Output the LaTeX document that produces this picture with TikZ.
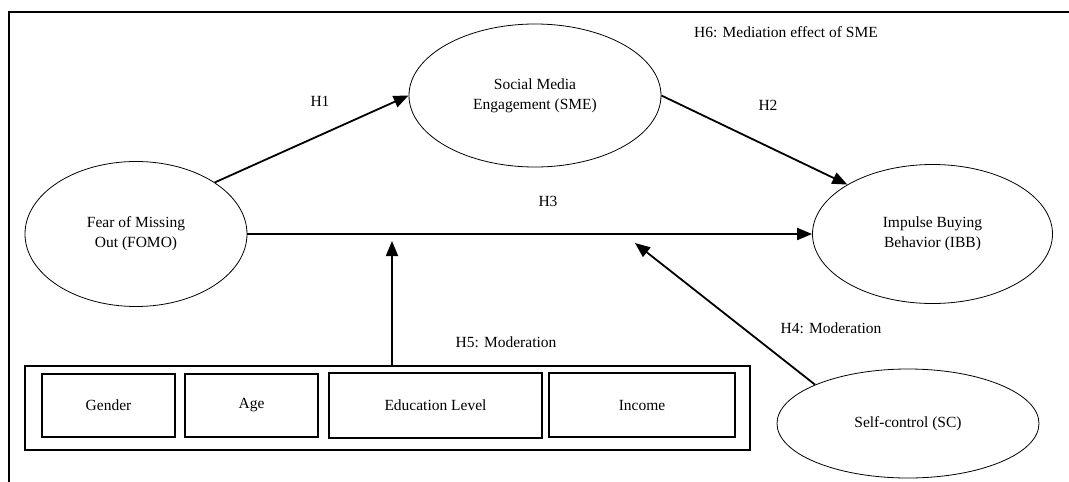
\documentclass[tikz,border=0pt]{standalone}
\usepackage{fontspec}
\setmainfont{Liberation Serif}
\usetikzlibrary{shapes.geometric,arrows.meta}
\begin{document}
\begin{tikzpicture}[x=1pt,y=-1pt,
  every node/.style={font=\fontsize{15.5}{20}\selectfont},
  construct/.style={draw,ellipse,line width=0.8pt,inner sep=0pt,align=center},
  itembox/.style={draw,line width=1.1pt,inner sep=0pt,align=center},
  path/.style={line width=1.8pt,-{Triangle[length=15pt,width=12pt]}},
  lbl/.style={inner sep=0pt,anchor=center}]
\useasboundingbox (0,0) rectangle (1069,482);
\draw[line width=1.4pt] (9,482) -- (9,12) -- (1069,12);
\node[construct,minimum width=222pt,minimum height=145pt] (fomo) at (136,234) {Fear of Missing\\Out (FOMO)};
\node[construct,minimum width=252pt,minimum height=143pt] (sme) at (535,95.5) {Social Media\\Engagement (SME)};
\node[construct,minimum width=240pt,minimum height=139pt] (ibb) at (932.5,234) {Impulse Buying\\Behavior (IBB)};
\node[construct,minimum width=262pt,minimum height=109pt] (sc) at (908,423.5) {Self-control (SC)};
\node[draw,line width=1.1pt,minimum width=725pt,minimum height=84pt,inner sep=0pt] (demo) at (387.5,408) {};
\node[itembox,minimum width=133pt,minimum height=63pt] (gender) at (108.5,405.5) {Gender};
\node[itembox,minimum width=133pt,minimum height=63pt] (age) at (251.5,405.5) {Age};
\node[itembox,minimum width=213pt,minimum height=65pt] (edu) at (435.5,405.5) {Education Level};
\node[itembox,minimum width=186pt,minimum height=64pt] (income) at (642,405) {Income};
\coordinate (m5) at (392,241);
\coordinate (m4) at (635,243);
\draw[path] (fomo.north east) -- (sme.west);
\draw[path] (sme.east) -- (ibb.north west);
\draw[path] (fomo.east) -- (ibb.west);
\draw[path] (demo.north -| m5) -- (m5);
\draw[path] (sc.north west) -- (m4);
\node[lbl] (h1) at (320,101) {H1};
\node[lbl] (h2) at (768,105) {H2};
\node[lbl] (h3) at (548,201) {H3};
\node[lbl] (h6) at (786,32) {H6: Mediation effect of SME};
\node[lbl] (h5) at (506,342) {H5: Moderation};
\node[lbl] (h4) at (831,328) {H4: Moderation};
\end{tikzpicture}
\end{document}
